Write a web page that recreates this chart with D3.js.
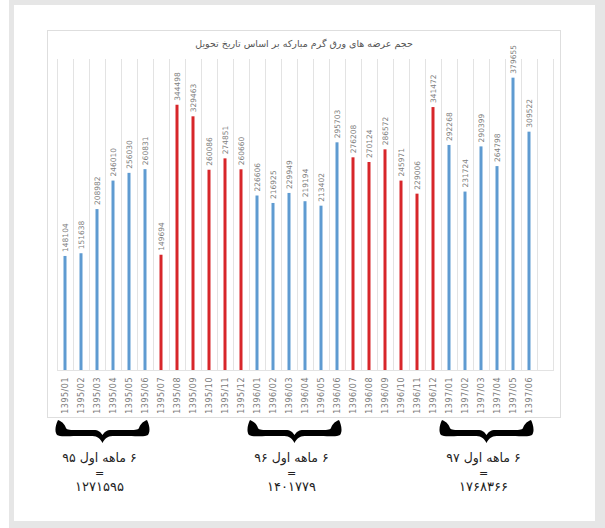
<!DOCTYPE html>
<html><head><meta charset="utf-8">
<script src="https://cdn.jsdelivr.net/npm/d3@7"></script>
<style>body{margin:0;background:#fff;overflow:hidden}</style>
</head><body><svg id="c" width="605" height="528"></svg>
<script>
const title = "حجم عرضه های ورق گرم مبارکه بر اساس تاریخ تحویل";
const categories = [
  "1395/01","1395/02","1395/03","1395/04","1395/05","1395/06","1395/07","1395/08","1395/09","1395/10","1395/11","1395/12",
  "1396/01","1396/02","1396/03","1396/04","1396/05","1396/06","1396/07","1396/08","1396/09","1396/10","1396/11","1396/12",
  "1397/01","1397/02","1397/03","1397/04","1397/05","1397/06"];
const values = [
  148104,151638,208982,246010,256030,260831,149694,344498,329463,260086,274851,260660,
  226606,216925,229949,219194,213402,295703,276208,270124,286572,245971,229006,341472,
  292268,231724,290399,264798,379655,309522];
const groupYears = ["۹۵","۹۶","۹۷"];
const groupStart = ["1395/01","1396/01","1397/01"];
const groupEnd   = ["1395/06","1396/06","1397/06"];
const yMax = 400000;

const svg = d3.select("#c");
// frame
svg.append("rect").attr("x",9).attr("y",0).attr("width",596).attr("height",528).attr("fill","#e6e6e6");
svg.append("rect").attr("x",14).attr("y",5).attr("width",581).attr("height",516).attr("fill","#fff");
// chart box
svg.append("rect").attr("x",47.5).attr("y",30.5).attr("width",513).attr("height",387)
  .attr("fill","#fff").attr("stroke","#dedede").attr("stroke-width",1);

const x = d3.scaleBand().domain(categories).range([57,537]).padding(0);
const y = d3.scaleLinear().domain([0,yMax]).range([370,62]);
const step = x.step();

// title
svg.append("text").attr("x",304).attr("y",47).attr("text-anchor","middle").attr("direction","rtl")
  .attr("font-family","DejaVu Sans").attr("font-size",9.5).attr("letter-spacing",0.6).attr("fill","#555").text(title);

// gridlines at category boundaries (+1 trailing)
const gx = d3.range(categories.length+2).map(i => x.range()[0] + i*step);
svg.append("g").selectAll("line").data(gx).join("line")
  .attr("x1",d=>d+0.5).attr("x2",d=>d+0.5).attr("y1",59).attr("y2",370)
  .attr("stroke","#e3e3e3").attr("stroke-width",1);
svg.append("line").attr("x1",57).attr("x2",gx[gx.length-1]+1).attr("y1",370.5).attr("y2",370.5)
  .attr("stroke","#e3e3e3");

const isRed = c => +c.slice(5) >= 7;
const data = categories.map((c,i)=>({c, v: values[i]}));
const bw = 3;
svg.append("g").selectAll("rect").data(data).join("rect")
  .attr("x",d=>x(d.c)+step/2-bw/2).attr("width",bw)
  .attr("y",d=>y(d.v)).attr("height",d=>y(0)-y(d.v))
  .attr("fill",d=>isRed(d.c)?"#d7262a":"#5f9bd1");

// value labels
svg.append("g").selectAll("text").data(data).join("text")
  .attr("transform",d=>`translate(${x(d.c)+step/2},${y(d.v)-4}) rotate(-90)`)
  .attr("dy","0.35em").attr("text-anchor","start")
  .attr("font-family","DejaVu Sans").attr("font-size",7.5).attr("fill","#808080")
  .text(d=>d.v);

// x axis
const ax = svg.append("g").attr("transform","translate(0,372)")
  .call(d3.axisBottom(x).tickSize(0).tickPadding(0));
ax.select(".domain").remove();
ax.selectAll("text")
  .attr("transform","translate(0,5) rotate(-90)")
  .attr("text-anchor","end").attr("dy","0.35em").attr("y",0).attr("x",0)
  .attr("font-family","DejaVu Sans").attr("font-size",8).attr("fill","#7a7a7a")
  .attr("letter-spacing",0.5);

// braces and totals
const fa = s => String(s).replace(/\d/g, d => "۰۱۲۳۴۵۶۷۸۹"[d]);
function bracePath(w){
  const c = w/2;
  return `M3,0 C8,2 10,5 11,8 C12,10 16,10 22,10 L${c-9},10 C${c-4},10 ${c-2},12 ${c},15
  C${c+2},12 ${c+4},10 ${c+9},10 L${w-22},10 C${w-16},10 ${w-12},10 ${w-11},8 C${w-10},5 ${w-8},2 ${w-3},0
  C${w-1},4 ${w+1},11 ${w-2},15 C${w-5},17 ${w-12},16 ${w-22},16 L${c+10},16 C${c+5},16 ${c+2},19 ${c},23
  C${c-2},19 ${c-5},16 ${c-10},16 L22,16 C12,16 5,17 2,15 C-1,11 1,4 3,0 Z`;
}
groupYears.forEach((yr,i)=>{
  const i0 = categories.indexOf(groupStart[i]), i1 = categories.indexOf(groupEnd[i]);
  const total = d3.sum(values.slice(i0,i1+1));
  const x0 = x(groupStart[i]) - 2, x1 = x(groupEnd[i]) + step - 3;
  const cx = (x0+x1)/2;
  svg.append("path").attr("transform",`translate(${x0},420)`).attr("d",bracePath(x1-x0)).attr("fill","#000");
  const t = svg.append("g").attr("font-family","DejaVu Sans").attr("fill","#222")
    .attr("text-anchor","middle");
  t.append("text").attr("x",cx-3).attr("y",462).attr("direction","rtl").attr("font-size",12.5).text(`۶ ماهه اول ${yr}`);
  t.append("text").attr("x",cx-3).attr("y",477).attr("font-size",11).text("=");
  t.append("text").attr("x",cx-3).attr("y",491).attr("direction","rtl").attr("font-size",13).attr("letter-spacing",0.5).text(fa(total));
});
</script></body></html>
